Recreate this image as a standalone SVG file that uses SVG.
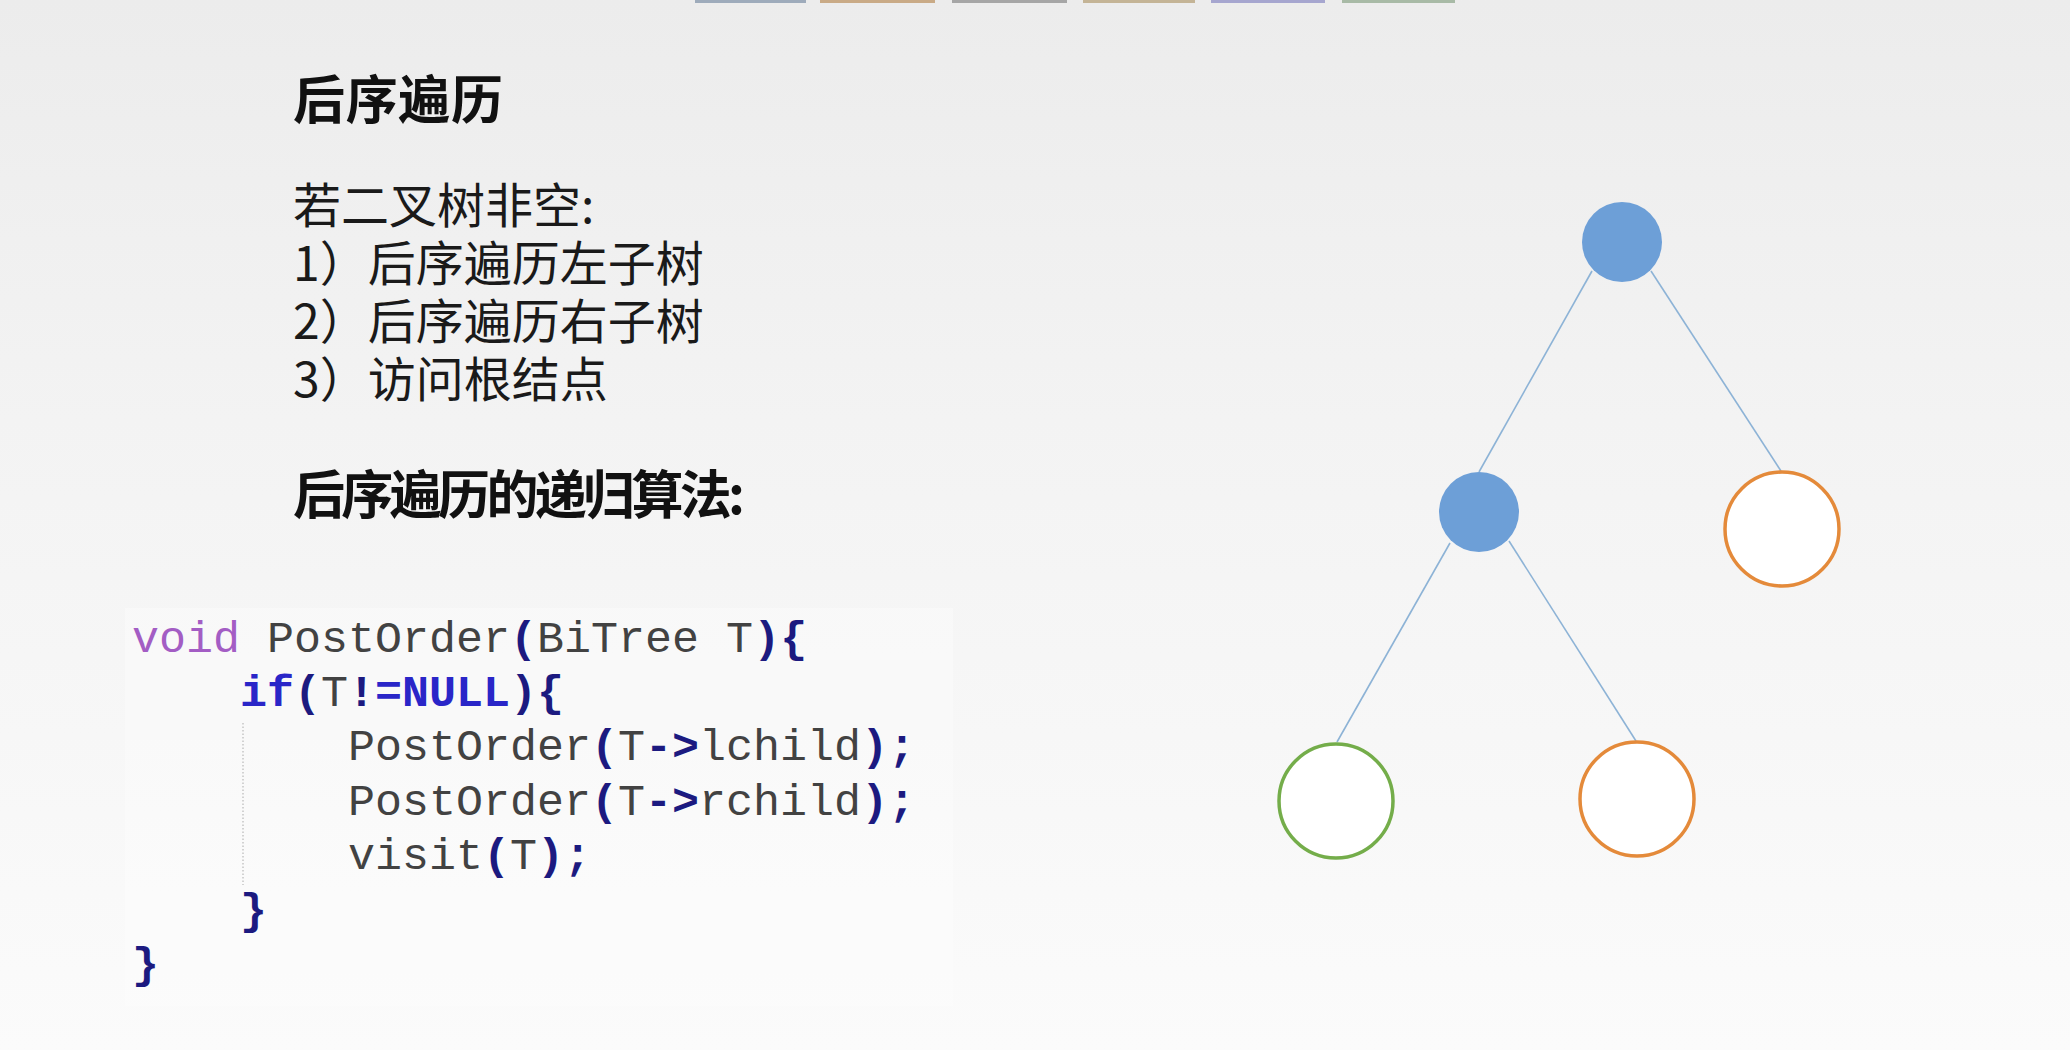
<svg xmlns="http://www.w3.org/2000/svg" width="2070" height="1050" viewBox="0 0 2070 1050">
  <defs>
    <linearGradient id="bg" x1="0" y1="0" x2="0" y2="1">
      <stop offset="0" stop-color="#ececec"/>
      <stop offset="0.4" stop-color="#f3f3f3"/>
      <stop offset="1" stop-color="#fbfbfb"/>
    </linearGradient>
  </defs>
  <style>
    .title { font-family: "Noto Sans CJK SC", "Liberation Sans", sans-serif; font-weight: bold; font-size: 52px; fill: #111; }
    .body { font-family: "Noto Sans CJK SC", "Liberation Sans", sans-serif; font-size: 48px; fill: #1a1a1a; }
    .code { font-family: "Liberation Mono", "DejaVu Sans Mono", monospace; font-size: 45px; fill: #424242; }
    .kw { fill: #a35dc4; }
    .blue { fill: #2a26c8; font-weight: bold; }
    .punc { fill: #1c1a80; font-weight: bold; }
    .edge { stroke: #8db3d6; stroke-width: 1.6; fill: none; }
    .filled { fill: #6d9fd7; }
    .orange { fill: #ffffff; stroke: #e48a3a; stroke-width: 3.5; }
    .green { fill: #ffffff; stroke: #74ad4a; stroke-width: 3.5; }
  </style>

  <rect x="0" y="0" width="2070" height="1050" fill="url(#bg)"/>

  <!-- top tab edges -->
  <g id="tabs">
    <rect x="695" y="0" width="111" height="3" fill="#9eabbb"/>
    <rect x="820" y="0" width="115" height="3" fill="#c9aa86"/>
    <rect x="952" y="0" width="115" height="3" fill="#a6a6a6"/>
    <rect x="1083" y="0" width="112" height="3" fill="#c4b496"/>
    <rect x="1211" y="0" width="114" height="3" fill="#a6a6cf"/>
    <rect x="1342" y="0" width="113" height="3" fill="#a8baa6"/>
  </g>

  <!-- text block -->
  <g id="heading">
    <text class="title" x="293" y="119" textLength="210" lengthAdjust="spacing">后序遍历</text>
  </g>
  <g id="steps">
    <text class="body" x="293" y="223">若二叉树非空:</text>
    <text class="body" x="293" y="281">1）后序遍历左子树</text>
    <text class="body" x="293" y="339">2）后序遍历右子树</text>
    <text class="body" x="293" y="397">3）访问根结点</text>
  </g>
  <g id="heading2">
    <text class="title" x="293" y="514" textLength="452" lengthAdjust="spacing">后序遍历的递归算法:</text>
  </g>

  <!-- code -->
  <g id="code">
    <rect x="125" y="608" width="828" height="398" fill="#ffffff" opacity="0.3"/>
    <line x1="243" y1="723" x2="243" y2="885" stroke="#b8b8b8" stroke-width="1.2" stroke-dasharray="1.5,2"/>
    <text class="code" x="132" y="652"><tspan class="kw">void</tspan> PostOrder<tspan class="punc">(</tspan>BiTree T<tspan class="punc">){</tspan></text>
    <text class="code" x="240" y="706"><tspan class="blue">if</tspan><tspan class="punc">(</tspan>T<tspan class="punc">!</tspan><tspan class="blue">=NULL</tspan><tspan class="punc">){</tspan></text>
    <text class="code" x="348" y="760">PostOrder<tspan class="punc">(</tspan>T<tspan class="punc">-&gt;</tspan>lchild<tspan class="punc">);</tspan></text>
    <text class="code" x="348" y="815">PostOrder<tspan class="punc">(</tspan>T<tspan class="punc">-&gt;</tspan>rchild<tspan class="punc">);</tspan></text>
    <text class="code" x="348" y="869">visit<tspan class="punc">(</tspan>T<tspan class="punc">);</tspan></text>
    <text class="code" x="240" y="924"><tspan class="punc">}</tspan></text>
    <text class="code" x="132" y="978"><tspan class="punc">}</tspan></text>
  </g>

  <!-- tree connectors -->
  <g id="connectors">
    <line class="edge" x1="1592" y1="271" x2="1479" y2="472"/>
    <line class="edge" x1="1651" y1="271" x2="1781" y2="471"/>
    <line class="edge" x1="1450" y1="543" x2="1337" y2="742"/>
    <line class="edge" x1="1509" y1="541" x2="1636" y2="741"/>
  </g>

  <!-- tree nodes -->
  <g id="node-root"><circle class="filled" cx="1622" cy="242" r="40"/></g>
  <g id="node-left"><circle class="filled" cx="1479" cy="512" r="40"/></g>
  <g id="node-right"><circle class="orange" cx="1782" cy="529" r="57"/></g>
  <g id="node-left-left"><circle class="green" cx="1336" cy="801" r="57"/></g>
  <g id="node-left-right"><circle class="orange" cx="1637" cy="799" r="57"/></g>
</svg>
